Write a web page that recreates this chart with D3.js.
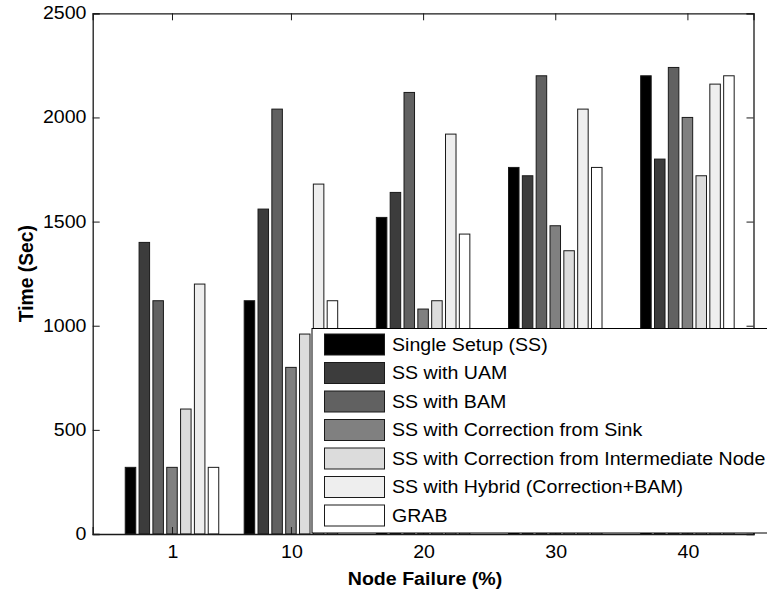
<!DOCTYPE html>
<html>
<head>
<meta charset="utf-8">
<script src="https://cdn.jsdelivr.net/npm/d3@7"></script>
<style>
  html, body { margin: 0; padding: 0; background: #fff; }
  svg { display: block; }
  text { font-family: "Liberation Sans", Arial, Helvetica, sans-serif; fill: #000; }
</style>
</head>
<body>
<svg id="chart" width="767" height="593"></svg>
<script>
// Node failure levels (%) on the x axis
const categories = [1, 10, 20, 30, 40];

// Series names, in legend order
const seriesNames = [
  "Single Setup (SS)",
  "SS with UAM",
  "SS with BAM",
  "SS with Correction from Sink",
  "SS with Correction from Intermediate Node",
  "SS with Hybrid (Correction+BAM)",
  "GRAB"
];

// Time (Sec) for each series at each failure level
const singleSetup   = [320, 1120, 1520, 1760, 2200];
const ssUAM         = [1400, 1560, 1640, 1720, 1800];
const ssBAM         = [1120, 2040, 2120, 2200, 2240];
const ssSink        = [320, 800, 1080, 1480, 2000];
const ssIntermediate= [600, 960, 1120, 1360, 1720];
const ssHybrid      = [1200, 1680, 1920, 2040, 2160];
const grab          = [320, 1120, 1440, 1760, 2200];

const seriesValues = [singleSetup, ssUAM, ssBAM, ssSink, ssIntermediate, ssHybrid, grab];

// Gray fills per series
const seriesFills = ["#000000", "#3c3c3c", "#616161", "#808080", "#dcdcdc", "#eeeeee", "#ffffff"];

const yTicks = [0, 500, 1000, 1500, 2000, 2500];

// ---- layout ----
const svg = d3.select("#chart");
const plot = { left: 92.7, right: 753.5, top: 13.3, bottom: 534 };
const TXT = 17.5;      // font size
const SX = 1.12;       // horizontal text stretch

const x = d3.scaleLinear().domain([-5, 45]).range([plot.left, plot.right]);
const y = d3.scaleLinear().domain([0, 2500]).range([plot.bottom, plot.top]);
const inner = d3.scaleBand().domain(d3.range(seriesNames.length))
  .range([-46.75, 46.75]).paddingInner(0.24).paddingOuter(0);

function label(g, str, px, py, anchor, bold) {
  return g.append("text")
    .attr("transform", `translate(${px},${py}) scale(${SX},1)`)
    .attr("text-anchor", anchor)
    .style("font-size", TXT + "px")
    .style("font-weight", bold ? "bold" : "normal")
    .text(str);
}

// ---- bars ----
const barsG = svg.append("g");
seriesValues.forEach((vals, s) => {
  barsG.selectAll(null)
    .data(vals.map((v, i) => ({ v, c: categories[i] })))
    .enter().append("rect")
    .attr("x", d => x(d.c) + inner(s))
    .attr("y", d => y(d.v))
    .attr("width", inner.bandwidth())
    .attr("height", d => y(0) - y(d.v))
    .attr("fill", seriesFills[s])
    .attr("stroke", "#1a1a1a")
    .attr("stroke-width", 1);
});

// ---- axes box and ticks ----
const axG = svg.append("g");
const tickLen = 7;
const xAxisBottom = d3.axisBottom(x).tickValues(categories).tickSize(-tickLen).tickFormat("");
const xAxisTop = d3.axisTop(x).tickValues(categories).tickSize(-tickLen).tickFormat("");
const yAxisLeft = d3.axisLeft(y).tickValues(yTicks).tickSize(-tickLen).tickFormat("");
const yAxisRight = d3.axisRight(y).tickValues(yTicks).tickSize(-tickLen).tickFormat("");

axG.append("g").attr("transform", `translate(0,${plot.bottom})`).call(xAxisBottom);
axG.append("g").attr("transform", `translate(0,${plot.top})`).call(xAxisTop);
axG.append("g").attr("transform", `translate(${plot.left},0)`).call(yAxisLeft);
axG.append("g").attr("transform", `translate(${plot.right},0)`).call(yAxisRight);
axG.selectAll(".domain").attr("stroke", "#1a1a1a").attr("stroke-width", 1.3);
axG.selectAll(".tick line").attr("stroke", "#1a1a1a").attr("stroke-width", 1);

// tick labels
const labG = svg.append("g");
categories.forEach(c => label(labG, String(c), x(c) + 1, 558, "middle", false));
yTicks.forEach(t => label(labG, String(t), 86.5, y(t) + 6, "end", false));

// axis titles
label(labG, "Node Failure (%)", 425, 585, "middle", true);
labG.append("text")
  .attr("transform", `translate(32.5,${(plot.top + plot.bottom) / 2}) rotate(-90)`)
  .attr("text-anchor", "middle")
  .style("font-size", "19.3px")
  .style("font-weight", "bold")
  .text("Time (Sec)");

// ---- legend ----
const leg = svg.append("g");
leg.append("rect")
  .attr("x", 312).attr("y", 328.5)
  .attr("width", 500).attr("height", 204.5)
  .attr("fill", "#fff").attr("stroke", "#000").attr("stroke-width", 1);

seriesNames.forEach((name, s) => {
  const ry = 334 + s * 28.5;
  leg.append("rect")
    .attr("x", 324.5).attr("y", ry)
    .attr("width", 60).attr("height", 21)
    .attr("fill", seriesFills[s])
    .attr("stroke", "#1a1a1a").attr("stroke-width", 1);
  label(leg, name, 392, ry + 16.7, "start", false);
});
</script>
</body>
</html>
